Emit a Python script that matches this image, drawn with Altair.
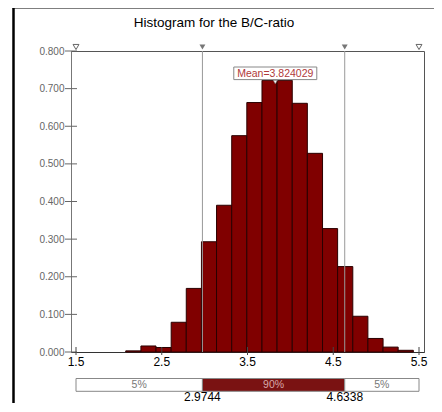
import altair as alt
import pandas as pd

# ---- data ----
bin_lo = [2.080, 2.257, 2.433, 2.610, 2.786, 2.963, 3.139, 3.316, 3.492, 3.669,
          3.845, 4.022, 4.198, 4.375, 4.551, 4.728, 4.904, 5.081, 5.257]
bin_hi = [2.257, 2.433, 2.610, 2.786, 2.963, 3.139, 3.316, 3.492, 3.669, 3.845,
          4.022, 4.198, 4.375, 4.551, 4.728, 4.904, 5.081, 5.257, 5.434]
density = [0.003, 0.016, 0.012, 0.079, 0.169, 0.293, 0.390, 0.575, 0.663, 0.722,
           0.722, 0.661, 0.528, 0.328, 0.227, 0.095, 0.036, 0.013, 0.0045]
y_ticks = [0.0, 0.1, 0.2, 0.3, 0.4, 0.5, 0.6, 0.7, 0.8]
x_ticks = [1.5, 2.5, 3.5, 4.5, 5.5]
x_min, x_max = 1.5, 5.5
lower_pct = 2.9744
upper_pct = 4.6338
mean_val = 3.824029
seg_start = [x_min, lower_pct, upper_pct]
seg_end = [lower_pct, upper_pct, x_max]
seg_label = ["5%", "90%", "5%"]
seg_fill = ["white", "#7a1212", "white"]
seg_text = ["#777777", "#d8a8a8", "#777777"]
title_text = "Histogram for the B/C-ratio"

W, H = 353, 301
FONT = "Liberation Sans"

hist_df = pd.DataFrame({"lo": bin_lo, "hi": bin_hi, "d": density})
ytick_df = pd.DataFrame({"v": y_ticks})
xtick_df = pd.DataFrame({"v": x_ticks, "lab": [f"{v:.1f}" for v in x_ticks]})
pct_df = pd.DataFrame({"v": [lower_pct, upper_pct],
                       "lab": [f"{lower_pct:.4f}", f"{upper_pct:.4f}"]})
end_df = pd.DataFrame({"v": [x_min, x_max]})
mean_df = pd.DataFrame({"v": [mean_val], "lab": [f"Mean={mean_val:.6f}"]})
seg_df = pd.DataFrame({"s": seg_start, "e": seg_end, "lab": seg_label,
                       "fill": seg_fill, "tc": seg_text})
one_df = pd.DataFrame({"a": [0]})

X = alt.Scale(domain=[x_min, x_max], nice=False, zero=False)
Y = alt.Scale(domain=[0, 0.8], nice=False)

AX_X = alt.Axis(values=x_ticks, ticks=False, labels=False,
                domainColor="#333333", title=None, grid=False)
AX_Y = alt.Axis(values=y_ticks, format=".3f", ticks=False, labelPadding=7,
                labelColor="#666666", labelFontSize=10, labelFont=FONT,
                domainColor="#777777", title=None, grid=False, labelOverlap=False)


def xq(field):
    return alt.X(field, type="quantitative", scale=X, axis=AX_X)


bars = alt.Chart(hist_df).mark_bar(color="#800000", stroke="#2a0000", strokeWidth=1,
                                   orient="vertical").encode(
    x=xq("lo"),
    x2="hi:Q",
    y=alt.Y("d:Q", scale=Y, axis=AX_Y),
    y2=alt.datum(0),
)

yticks = alt.Chart(ytick_df).mark_rule(color="#666666").encode(
    y=alt.Y("v:Q", scale=Y, axis=AX_Y), x=alt.value(-6), x2=alt.value(6))

xticks = alt.Chart(xtick_df).mark_rule(color="#444444").encode(
    x=xq("v"), y=alt.value(H - 5), y2=alt.value(H + 3))
xlabels = alt.Chart(xtick_df).mark_text(fontSize=12, font=FONT, color="#000000",
                                        align="center", baseline="middle").encode(
    x=xq("v"), y=alt.value(H + 10), text="lab:N")

pct_lines = alt.Chart(pct_df).mark_rule(color="#999999", strokeWidth=1).encode(
    x=xq("v"), y=alt.value(0), y2=alt.value(H))

tri_filled = alt.Chart(pct_df).mark_point(shape="triangle-down", filled=True, size=35,
                                          color="#777777", opacity=1).encode(
    x=xq("v"), y=alt.value(-4))
tri_open = alt.Chart(end_df).mark_point(shape="triangle-down", filled=False, size=35,
                                        color="#666666", strokeWidth=1, opacity=1).encode(
    x=xq("v"), y=alt.value(-4))

mean_box = alt.Chart(mean_df).mark_bar(width=83, fill="white", stroke="#888888",
                                       strokeWidth=1).encode(
    x=xq("v"), y=alt.value(16), y2=alt.value(28.6))
mean_txt = alt.Chart(mean_df).mark_text(color="#b03a3a", fontSize=10.5, font=FONT,
                                        baseline="middle", align="center").encode(
    x=xq("v"), y=alt.value(22.5), text="lab:N")
mean_tri = alt.Chart(mean_df).mark_point(shape="triangle-down", filled=True, size=18,
                                         color="white", stroke="#777777", strokeWidth=0.6,
                                         opacity=1).encode(
    x=xq("v"), y=alt.value(31))

BOX_T, BOX_B = 327.5, 340.3
segs = alt.Chart(seg_df).mark_bar(stroke="#888888", strokeWidth=1).encode(
    x=xq("s"), x2="e:Q",
    y=alt.value(BOX_T), y2=alt.value(BOX_B),
    fill=alt.Fill("fill:N", scale=None))
seg_txt = alt.Chart(seg_df).transform_calculate(m="(datum.s + datum.e) / 2").mark_text(
    fontSize=10.5, font=FONT, baseline="middle", align="center").encode(
    x=xq("m"), y=alt.value((BOX_T + BOX_B) / 2), text="lab:N",
    color=alt.Color("tc:N", scale=None))
pct_txt = alt.Chart(pct_df).mark_text(fontSize=12, font=FONT, color="#000000",
                                      baseline="middle", align="center").encode(
    x=xq("v"), y=alt.value(346), text="lab:N")

title = alt.Chart(one_df).mark_text(text=title_text, fontSize=13.5, font=FONT,
                                    color="#000000", align="center",
                                    baseline="middle").encode(
    x=alt.value(143), y=alt.value(-28.5))

frame_left = alt.Chart(one_df).mark_rule(color="#000000", strokeWidth=2.5).encode(
    x=alt.value(-57.5), y=alt.value(-44), y2=alt.value(362))
frame_top = alt.Chart(one_df).mark_rule(color="#000000", strokeWidth=2).encode(
    x=alt.value(-58.5), x2=alt.value(372), y=alt.value(-43.5))

chart = alt.layer(
    bars, pct_lines, yticks, xticks, xlabels, tri_filled, tri_open,
    mean_box, mean_txt, mean_tri, segs, seg_txt, pct_txt,
    title, frame_left, frame_top
).properties(
    width=W, height=H,
    autosize=alt.AutoSizeParams(type="none"),
    padding={"left": 63, "top": 43, "right": 10, "bottom": 51},
    background="white",
).configure_view(stroke="#555555", strokeWidth=1)

chart.save("out.html", embed_options={"renderer": "svg", "actions": False})
